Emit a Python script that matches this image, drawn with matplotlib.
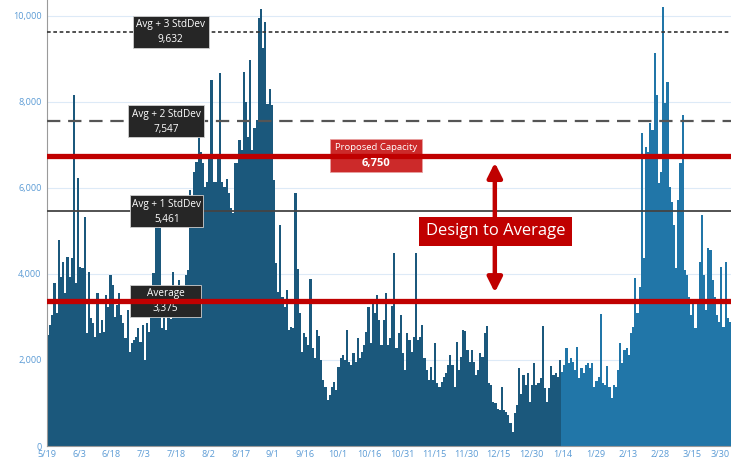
import matplotlib
matplotlib.use("Agg")
import matplotlib.pyplot as plt
import matplotlib.transforms as mtransforms
from matplotlib.patches import Rectangle
import numpy as np

# ---------------- data ----------------
tick_labels = ["5/19", "6/3", "6/18", "7/3", "7/18", "8/2", "8/17", "9/1", "9/16",
               "10/1", "10/16", "10/31", "11/15", "11/30", "12/15", "12/30",
               "1/14", "1/29", "2/13", "2/28", "3/15", "3/30"]
tick_days = [0, 15, 30, 45, 60, 75, 90, 105, 120, 135, 150, 165, 180, 195, 210,
             225, 240, 255, 270, 285, 300, 315]

# daily values, dark period (5/19 .. 1/14)
values_dark = [
    2580, 2810, 3050, 3790, 3090, 4790, 3930, 4280, 3550, 4400, 3930, 4370, 8160, 3790, 6230, 4170,
    4140, 5330, 2620, 4050, 2970, 2850, 2540, 3550, 2620, 2930, 2640, 3510, 3240, 3970, 3740, 3010,
    3280, 3550, 3050, 2850, 2500, 3160, 2190, 2390, 2460, 2540, 2740, 2420, 2810, 2000, 2850, 2650,
    3350, 4020, 5260, 5200, 5070,
    2750, 3650, 2700, 3300, 2950, 4050, 3700, 3400, 3870, 3700, 3600, 3980, 4100,
    5950, 5800, 6370, 6610, 7190, 6840, 6580, 6030, 6150, 6720, 8510, 6150, 6150, 6760, 8670, 6150,
    6020, 6200, 5880, 5530, 5410, 6580, 6580, 7120, 6880, 8700, 8000, 7190, 8980, 6880, 7400, 7580,
    9950, 10160, 9250, 9860, 7950, 8300, 7940, 6190,
    4260, 3580, 5140, 3470, 3230, 3630, 2700, 2770, 2740, 5880, 4120, 3090, 2190, 2630, 2540, 2350,
    3880, 2280, 2050, 2700, 2560, 2000, 1540, 1380, 1070, 1190, 1370, 1490, 1300, 1840, 2050, 2120,
    2000, 2700, 1950, 1880, 2160, 1950, 2510, 2050, 2190, 2350, 2650, 3240, 2390, 3350, 3090, 3510,
    2930, 2350, 2930, 3550, 2350, 2510, 3260, 4490, 2280, 2630, 3050, 2160, 1770, 2630, 2470, 2190,
    2540, 4490, 2470, 2540, 2810, 2050, 1770, 1540, 1840, 1540, 2390, 1460, 1380, 1490, 1610, 1700,
    1880, 2120, 1880, 1370, 2420, 1770, 2070, 2700, 2680, 2230, 1950, 2230, 1950, 1650, 1770, 2160,
    2080, 2620, 2780, 1460, 1420, 1030, 990, 870, 840, 1380, 840, 800, 720, 530, 330, 760,
    950, 1810, 1220, 1650, 1420, 1690, 1030, 1420, 1920, 1420, 1460, 1570, 2780, 1340, 1030, 1340,
    1850, 1650, 1690, 1610, 2000,
]
# daily values, light period (1/15 .. 4/2)
values_light = [
    1730, 1880, 2270, 1920, 2040, 1960, 1770, 2310, 1570, 1810, 1690, 1880, 1920, 1810, 1920, 1380,
    1500, 1610, 3080, 1460, 1420, 1850, 1380, 1110, 1420, 1380,
    1770, 2390, 1930, 2230, 2270, 2120, 2630, 2770, 3900, 3090, 3700,
    7270, 4370, 6960, 6840, 7510, 7350, 9130, 8160, 6110, 6380, 10220, 7970, 8470, 6030, 5680, 5140,
    4140, 5720, 6580, 7700, 4090, 3980, 3470, 3050, 3330, 2740, 3350, 4290, 5370, 3980, 3160, 4600,
    4560, 3860, 3470, 3050, 2880, 4170, 2770, 4290, 2970, 2880,
]

ref_names = ["Avg + 3 StdDev", "Avg + 2 StdDev", "Avg + 1 StdDev", "Average"]
ref_values = [9632, 7547, 5461, 3375]
capacity_label = "Proposed Capacity"
capacity_value = 6750
design_label = "Design to Average"

# ---------------- style ----------------
plt.rcParams['font.family'] = ['Open Sans', 'DejaVu Sans']
dark_col = '#1b587c'
light_col = '#2176a8'
red = '#c00000'
tick_col = '#5b9bd5'

fig = plt.figure(figsize=(7.31, 4.61), dpi=100)
ax = fig.add_axes([47 / 731, 1 - 446 / 461, 1 - 47 / 731, 446 / 461])

n_dark = len(values_dark)
x_dark = np.arange(n_dark)
x_light = np.arange(n_dark, n_dark + len(values_light))
ax.bar(x_dark, values_dark, width=1.0, align='edge', color=dark_col, linewidth=0, zorder=2)
ax.bar(x_light, values_light, width=1.0, align='edge', color=light_col, linewidth=0, zorder=2)

ax.set_xlim(0, n_dark + len(values_light))
ax.set_ylim(0, 10372)

ax.set_yticks([0, 2000, 4000, 6000, 8000, 10000])
ax.set_yticklabels(['0', '2,000', '4,000', '6,000', '8,000', '10,000'])
ax.set_xticks(tick_days)
ax.set_xticklabels(tick_labels)
ax.tick_params(axis='both', colors=tick_col, labelsize=6.6, length=0)
ax.tick_params(axis='y', pad=4)
ax.tick_params(axis='x', pad=3)
last = ax.get_xticklabels()[-1]
last.set_transform(last.get_transform() +
                   mtransforms.ScaledTranslation(-4 / 100, 0, fig.dpi_scale_trans))
ax.grid(axis='y', color='#ddeaf7', linewidth=0.8, zorder=0)
ax.set_axisbelow(True)
for s in ['top', 'right']:
    ax.spines[s].set_visible(False)
ax.spines['left'].set_color('#9a9a9a')
ax.spines['bottom'].set_color('#9a9a9a')

# reference lines
ax.axhline(ref_values[0], color='#333333', lw=1.2, ls=(0, (2.2, 1.6)), zorder=3)
ax.axhline(ref_values[1], color='#555555', lw=1.6, ls=(0, (6, 3.5)), zorder=3)
ax.axhline(ref_values[2], color='#444444', lw=1.3, ls='-', zorder=3)
ax.axhline(capacity_value, color=red, lw=3.8, zorder=6)
ax.axhline(ref_values[3], color=red, lw=3.8, zorder=6)

# labels for reference lines: fixed-size dark boxes
px_day = (731 - 47) / (n_dark + len(values_light))
px_val = 446 / 10372
box_widths = [76, 76, 73, 71]
box_h = 32 / px_val
label_x = [57.5, 55.5, 55.7, 55.2]
for name, val, lx, bw in zip(ref_names, ref_values, label_x, box_widths):
    w = bw / px_day
    ax.add_patch(Rectangle((lx - w / 2, val - box_h / 2), w, box_h,
                           fc='#262626', ec='#cfcfcf', lw=0.6, zorder=5))
    ax.text(lx, val + box_h * 0.22, name, ha='center', va='center', color='white',
            fontsize=7.2, zorder=5.5)
    ax.text(lx, val - box_h * 0.25, f"{val:,}", ha='center', va='center', color='white',
            fontsize=7.2, zorder=5.5)

# proposed capacity box
cap_x = 153
cap_w = 92 / px_day
cap_h = 33 / px_val
ax.add_patch(Rectangle((cap_x - cap_w / 2, capacity_value - cap_h / 2), cap_w, cap_h,
                       fc='#cc2a2a', ec='#e8a0a0', lw=0.6, zorder=5))
ax.text(cap_x, capacity_value + cap_h * 0.24, capacity_label, ha='center', va='center',
        color='white', fontsize=6.8, zorder=7)
ax.text(cap_x, capacity_value - cap_h * 0.24, f"{capacity_value:,}", ha='center', va='center',
        color='white', fontsize=8, fontweight='bold', zorder=7)

ax.annotate('', xy=(208.2, 6590), xytext=(208.2, 3570),
            arrowprops=dict(arrowstyle='<|-|>', color=red, lw=3.2, mutation_scale=22,
                            shrinkA=0, shrinkB=0), zorder=7)
ax.text(208.4, 4990, design_label, ha='center', va='center', color='white', fontsize=12,
        zorder=8, bbox=dict(boxstyle='square,pad=0.4', fc=red, ec=red, lw=0))

fig.savefig('out.png', dpi=100)
